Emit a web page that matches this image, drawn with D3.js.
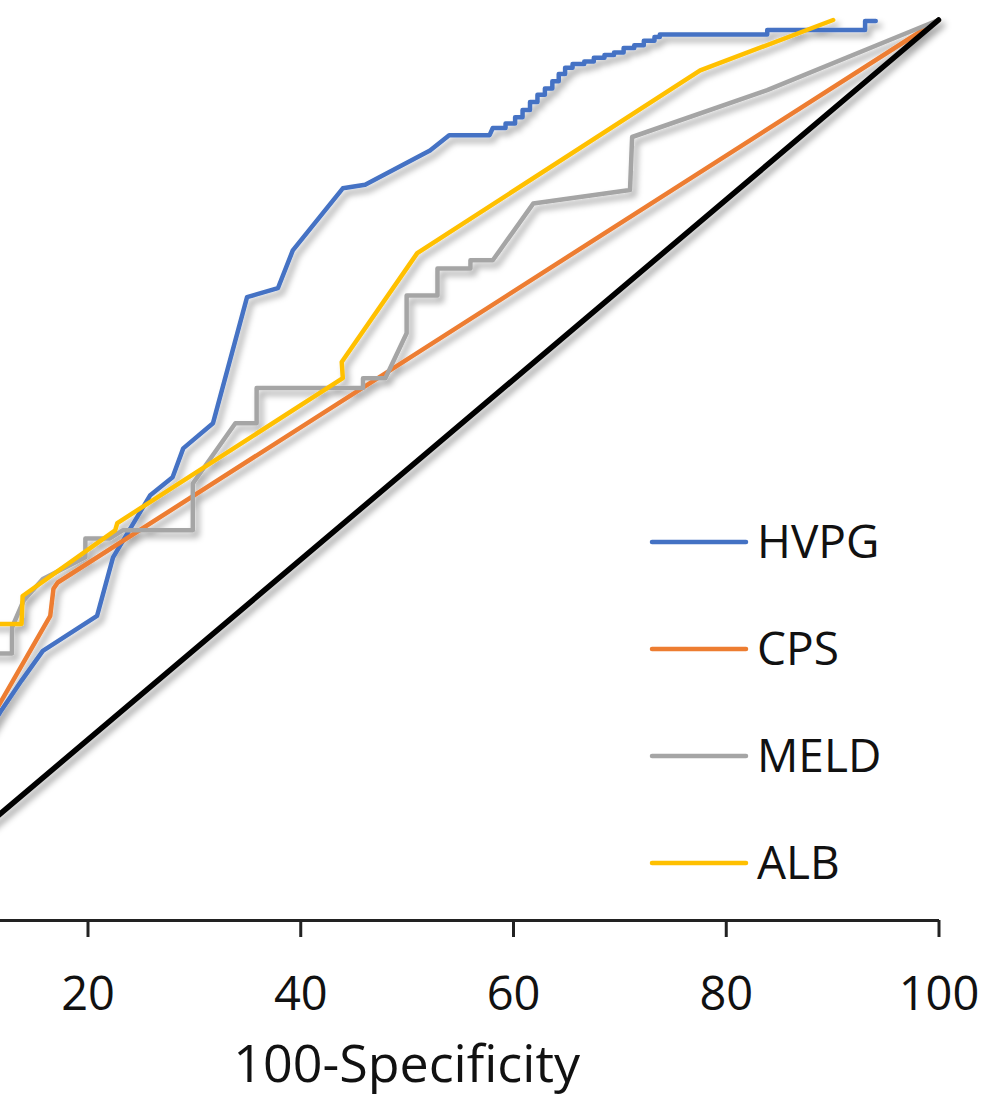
<!DOCTYPE html>
<html>
<head>
<meta charset="utf-8">
<script src="https://cdn.jsdelivr.net/npm/d3@7"></script>
<style>
  body { margin: 0; background: #fff; }
  svg { display: block; }
  text { font-family: "Open Sans", sans-serif; fill: #111; }
</style>
</head>
<body>
<script>
// ROC points: [100-Specificity, Sensitivity]
const hvpgPoints = [[0,0],[11.8,23.1],[13.8,26.6],[15.8,29.9],[20.9,33.8],[22.4,40.3],[25.9,47.2],[28.0,49.2],[29.0,52.4],[31.8,55.2],[35.0,69.2],[37.9,70.2],[39.3,74.4],[44.0,81.3],[46.1,81.7],[52.2,85.5],[54.0,87.2],[57.8,87.2],[58.1,88.0],[59.3,88.0],[59.3,88.5],[60.2,88.5],[60.2,89.2],[60.9,89.2],[60.9,90.0],[61.6,90.0],[61.6,90.9],[62.3,90.9],[62.3,91.7],[63.0,91.7],[63.0,92.4],[63.7,92.4],[63.7,93.2],[64.3,93.2],[64.3,94.0],[64.9,94.0],[64.9,94.7],[65.6,94.7],[65.6,95.1],[66.7,95.1],[66.7,95.4],[67.6,95.4],[67.6,95.8],[68.6,95.8],[68.6,96.1],[69.5,96.1],[69.5,96.4],[70.4,96.4],[70.4,96.9],[71.4,96.9],[71.4,97.2],[72.3,97.2],[72.3,97.7],[73.3,97.7],[73.3,98.1],[73.8,98.1],[73.8,98.4],[83.9,98.4],[83.9,98.9],[93.1,98.9],[93.1,99.9],[94.1,99.9]];
const cpsPoints = [[0,0],[13.0,26.6],[16.5,33.8],[16.8,36.8],[17.2,37.5],[100,100]];
const meldPoints = [[0,0],[10.0,29.6],[12.9,29.6],[12.9,32.5],[14.0,35.5],[15.8,37.9],[19.8,40.3],[19.8,42.4],[22.1,42.4],[23.3,43.3],[29.9,43.3],[29.9,48.5],[33.9,55.2],[35.9,55.2],[35.9,59.1],[45.9,59.1],[45.9,60.2],[48.0,60.2],[50.0,65.2],[50.0,69.4],[52.9,69.4],[52.9,72.4],[56.0,72.4],[56.0,73.3],[58.1,73.3],[61.9,79.6],[71.0,81.1],[71.2,87.0],[83.9,92.2],[100,100]];
const albPoints = [[0,0],[10.0,32.9],[13.8,32.9],[13.9,36.0],[22.6,43.3],[22.8,44.1],[44.0,60.2],[43.9,62.0],[51.0,74.1],[77.6,94.4],[90.1,100]];
const refPoints = [[0,0],[100,100]];

const seriesNames = ["HVPG", "CPS", "MELD", "ALB"];
const seriesColors = ["#4472C4", "#ED7D31", "#A5A5A5", "#FFC000"];
// the 0 tick lies outside the cropped picture
const xTicks = [20, 40, 60, 80, 100];

const series = [hvpgPoints, cpsPoints, meldPoints, albPoints];

const width = 988, height = 1113;

const svg = d3.select("body")
  .append("svg")
  .attr("width", width)
  .attr("height", height);

// the chart is cut off on the left, so x=0 sits outside the picture
const xScale = d3.scaleLinear().domain([0, 100]).range([-125.25, 938.5]);
const yScale = d3.scaleLinear().domain([0, 100]).range([920, 20]);

// soft shadow under the curves
const filter = svg.append("defs").append("filter")
  .attr("id", "shadow")
  .attr("filterUnits", "userSpaceOnUse")
  .attr("x", -200).attr("y", -50)
  .attr("width", 1300).attr("height", 1200);
filter.append("feDropShadow")
  .attr("dx", 4).attr("dy", 5)
  .attr("stdDeviation", 3)
  .attr("flood-color", "#000")
  .attr("flood-opacity", 0.35);

// x axis
const xAxis = d3.axisBottom(xScale)
  .tickValues(xTicks)
  .tickSize(17)
  .tickSizeOuter(0);

const gx = svg.append("g")
  .attr("transform", "translate(0," + yScale(0) + ")")
  .call(xAxis);
gx.select(".domain").attr("stroke", "#222").attr("stroke-width", 3);
gx.selectAll(".tick line").attr("stroke", "#222").attr("stroke-width", 3);
gx.selectAll(".tick text")
  .attr("y", 90)
  .attr("dy", 0)
  .style("font-size", "47px")
  .style("font-family", "'Open Sans', sans-serif")
  .attr("fill", "#111");

svg.append("text")
  .attr("x", xScale(50))
  .attr("y", 1082)
  .attr("text-anchor", "middle")
  .style("font-size", "52px")
  .text("100-Specificity");

const line = d3.line()
  .x(d => xScale(d[0]))
  .y(d => yScale(d[1]));

const curves = svg.append("g").attr("filter", "url(#shadow)");

curves.selectAll("path.roc")
  .data(series)
  .enter()
  .append("path")
  .attr("class", "roc")
  .attr("d", line)
  .attr("fill", "none")
  .attr("stroke", (d, i) => seriesColors[i])
  .attr("stroke-width", 4.5)
  .attr("stroke-linejoin", "round")
  .attr("stroke-linecap", "round");

// reference diagonal
curves.append("path")
  .attr("d", line(refPoints))
  .attr("fill", "none")
  .attr("stroke", "#000")
  .attr("stroke-width", 5.5)
  .attr("stroke-linecap", "round");

// legend
const legend = svg.selectAll("g.legend")
  .data(seriesNames)
  .enter()
  .append("g")
  .attr("class", "legend")
  .attr("transform", (d, i) => "translate(652," + (542 + i * 107) + ")");

legend.append("line")
  .attr("x1", 0).attr("x2", 94)
  .attr("y1", 0).attr("y2", 0)
  .attr("stroke", (d, i) => seriesColors[i])
  .attr("stroke-width", 4.5)
  .attr("stroke-linecap", "round");

legend.append("text")
  .attr("x", 105)
  .attr("y", 16)
  .style("font-size", "46px")
  .text(d => d);
</script>
</body>
</html>
